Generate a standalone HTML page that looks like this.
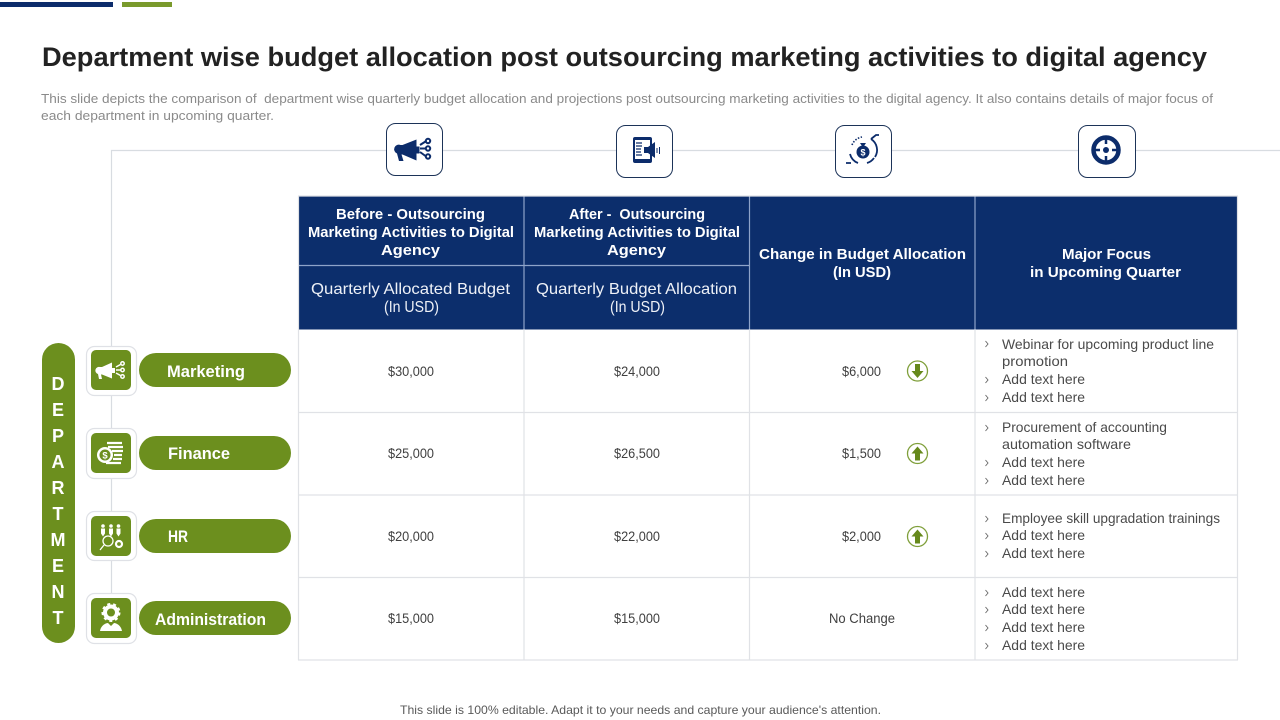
<!DOCTYPE html>
<html lang="en">
<head>
<meta charset="utf-8">
<title>Department wise budget allocation</title>
<style>
html,body{margin:0;padding:0;background:#fff;width:1280px;height:720px;overflow:hidden}
svg{display:block}
text{font-family:"Liberation Sans",sans-serif;white-space:pre}
.title{font-size:27px;font-weight:700;fill:#222}
.sub{font-size:13px;fill:#8a8a8a}
.hb{font-size:15px;font-weight:700;fill:#fff}
.hr{font-size:16px;fill:#eef1f7}
.val{font-size:13.500px;fill:#404040}
.bul{font-size:14px;fill:#4a4a4a}
.chev{fill:none;stroke:#666;stroke-width:0.900}
.dep{font-size:18px;font-weight:700;fill:#fff;text-anchor:middle}
.pl{font-size:17px;font-weight:700;fill:#fff}
.grid{stroke:#e0e2e6;stroke-width:1.200;fill:none}
.hgrid{stroke:#8ea3c9;stroke-width:1.200;fill:none}
.ibox{fill:#fff;stroke:#1c3358;stroke-width:1}
.tile{fill:#fff;stroke:#dfe1e6;stroke-width:1.200}
.tin{fill:#6c8f1e}
</style>
</head>
<body>
<svg width="1280" height="720" viewBox="0 0 1280 720" xmlns="http://www.w3.org/2000/svg">
  <rect width="1280" height="720" fill="#fff"/>
  <rect x="0" y="2" width="113" height="5" fill="#0c2c6b"/>
  <rect x="122" y="2" width="50" height="5" fill="#7a9a2c"/>

  <text class="title" x="42" y="66" textLength="1165" lengthAdjust="spacingAndGlyphs">Department wise budget allocation post outsourcing marketing activities to digital agency</text>
  <text class="sub" x="41" y="103" textLength="1172" lengthAdjust="spacingAndGlyphs">This slide depicts the comparison of  department wise quarterly budget allocation and projections post outsourcing marketing activities to the digital agency. It also contains details of major focus of</text>
  <text class="sub" x="41" y="120" textLength="233" lengthAdjust="spacingAndGlyphs">each department in upcoming quarter.</text>

  <path d="M1280 150.500H111.500V600" fill="none" stroke="#d8dce1" stroke-width="1.200"/>

  <!-- top icons -->
  <g>
    <rect class="ibox" x="386.500" y="123.500" width="56" height="52" rx="9"/>
    <path d="M400.500 145h2l14-5.500v21l-14-6h-1l2 6.500h-4.500l-2-7.500a4.500 4.500 0 0 1 3.500-8.500z" fill="#0c2c6b"/>
    <path d="M416 146.500h3.500v7h-3.500z" fill="#0c2c6b"/>
    <g fill="none" stroke="#0c2c6b" stroke-width="2">
      <circle cx="428" cy="141" r="2.200"/><circle cx="428" cy="148.500" r="2.200"/><circle cx="428" cy="156.500" r="2.200"/>
      <path d="M420 145l5.500-3.500M420 148.500h5.500M420 152l5.500 4"/>
    </g>
  </g>
  <g>
    <rect class="ibox" x="616.500" y="125.500" width="56" height="52" rx="9"/>
    <rect x="633" y="137" width="19" height="26" rx="2" fill="#0c2c6b"/>
    <rect x="635" y="140" width="15" height="19" fill="#fff"/>
    <path d="M636 143h6M636 146h6M636 149h5M636 152h5M636 155h6" stroke="#0c2c6b" stroke-width="1.200"/>
    <path d="M644 147h4l7-5v16l-7-5h-4z" fill="#0c2c6b"/>
    <path d="M657 148v5M659.500 147v7" stroke="#0c2c6b" stroke-width="1"/>
  </g>
  <g>
    <rect class="ibox" x="835.500" y="125.500" width="56" height="52" rx="9"/>
    <g fill="none" stroke="#0c2c6b" stroke-width="1.800">
      <path d="M871 139a13 13 0 0 1 4 18M858 163a13 13 0 0 1-8-9M867 163a13 13 0 0 0 7-5"/>
      <path d="M871 139l5-4 3 0M851 163h-5" />
    </g>
    <path d="M852 145a13 13 0 0 1 10-8" fill="none" stroke="#0c2c6b" stroke-width="1.600" stroke-dasharray="1.500 1.500"/>
    <circle cx="863" cy="152" r="6.500" fill="#0c2c6b"/>
    <path d="M860 143h6l-2 3h-2z" fill="#0c2c6b"/>
    <text x="863" y="155.500" font-size="9" font-weight="700" fill="#fff" text-anchor="middle">$</text>
  </g>
  <g>
    <rect class="ibox" x="1078.500" y="125.500" width="57" height="52" rx="9"/>
    <circle cx="1106" cy="150" r="12.500" fill="none" stroke="#0c2c6b" stroke-width="4.500"/>
    <circle cx="1106" cy="150" r="3" fill="#0c2c6b"/>
    <path d="M1106 138v6M1106 156v6M1094 150h6M1112 150h6" stroke="#0c2c6b" stroke-width="2.500"/>
  </g>

  <!-- table -->
  <g>
    <rect x="298.500" y="196.500" width="939" height="133" fill="#0c2e6c"/>
    <path class="hgrid" d="M524 196.500V329.500M749.500 196.500V329.500M975 196.500V329.500M298.500 265.500H749.500"/>
    <path class="grid" d="M298.500 196V660M524 330V660M749.500 330V660M975 330V660M1237.500 196V660M298 412.500H1238M298 495H1238M298 577.500H1238M298 660H1238M298 196H1238"/>

    <text class="hb" x="336" y="219" textLength="149" lengthAdjust="spacingAndGlyphs">Before - Outsourcing</text>
    <text class="hb" x="308" y="237" textLength="206" lengthAdjust="spacingAndGlyphs">Marketing Activities to Digital</text>
    <text class="hb" x="381" y="255" textLength="59" lengthAdjust="spacingAndGlyphs">Agency</text>
    <text class="hr" x="311" y="294" textLength="199" lengthAdjust="spacingAndGlyphs">Quarterly Allocated Budget</text>
    <text class="hr" x="384" y="312" textLength="55" lengthAdjust="spacingAndGlyphs">(In USD)</text>

    <text class="hb" x="569" y="219" textLength="136" lengthAdjust="spacingAndGlyphs">After -  Outsourcing</text>
    <text class="hb" x="534" y="237" textLength="206" lengthAdjust="spacingAndGlyphs">Marketing Activities to Digital</text>
    <text class="hb" x="607" y="255" textLength="59" lengthAdjust="spacingAndGlyphs">Agency</text>
    <text class="hr" x="536" y="294" textLength="201" lengthAdjust="spacingAndGlyphs">Quarterly Budget Allocation</text>
    <text class="hr" x="610" y="312" textLength="55" lengthAdjust="spacingAndGlyphs">(In USD)</text>

    <text class="hb" x="759" y="259" textLength="207" lengthAdjust="spacingAndGlyphs">Change in Budget Allocation</text>
    <text class="hb" x="833" y="277" textLength="58" lengthAdjust="spacingAndGlyphs">(In USD)</text>
    <text class="hb" x="1062" y="259" textLength="89" lengthAdjust="spacingAndGlyphs">Major Focus</text>
    <text class="hb" x="1030" y="277" textLength="151" lengthAdjust="spacingAndGlyphs">in Upcoming Quarter</text>

    <!-- values -->
    <text class="val" x="388" y="376" textLength="46" lengthAdjust="spacingAndGlyphs">$30,000</text>
    <text class="val" x="614" y="376" textLength="46" lengthAdjust="spacingAndGlyphs">$24,000</text>
    <text class="val" x="842" y="376" textLength="39" lengthAdjust="spacingAndGlyphs">$6,000</text>
    <text class="val" x="388" y="458" textLength="46" lengthAdjust="spacingAndGlyphs">$25,000</text>
    <text class="val" x="614" y="458" textLength="46" lengthAdjust="spacingAndGlyphs">$26,500</text>
    <text class="val" x="842" y="458" textLength="39" lengthAdjust="spacingAndGlyphs">$1,500</text>
    <text class="val" x="388" y="541" textLength="46" lengthAdjust="spacingAndGlyphs">$20,000</text>
    <text class="val" x="614" y="541" textLength="46" lengthAdjust="spacingAndGlyphs">$22,000</text>
    <text class="val" x="842" y="541" textLength="39" lengthAdjust="spacingAndGlyphs">$2,000</text>
    <text class="val" x="388" y="623" textLength="46" lengthAdjust="spacingAndGlyphs">$15,000</text>
    <text class="val" x="614" y="623" textLength="46" lengthAdjust="spacingAndGlyphs">$15,000</text>
    <text class="val" x="829" y="623" textLength="66" lengthAdjust="spacingAndGlyphs">No Change</text>

    <!-- arrows -->
    <g>
      <circle cx="917.500" cy="371" r="10" fill="#fff" stroke="#7f9f3a" stroke-width="1.300"/>
      <path d="M915 364h5v7h3.500l-6 7-6-7h3.500z" fill="#66891c"/>
    </g>
    <g>
      <circle cx="917.500" cy="453.500" r="10" fill="#fff" stroke="#7f9f3a" stroke-width="1.300"/>
      <path d="M915 460.500h5v-7h3.500l-6-7-6 7h3.500z" fill="#66891c"/>
    </g>
    <g>
      <circle cx="917.500" cy="536.500" r="10" fill="#fff" stroke="#7f9f3a" stroke-width="1.300"/>
      <path d="M915 543.500h5v-7h3.500l-6-7-6 7h3.500z" fill="#66891c"/>
    </g>

    <!-- bullets -->
    <path class="chev" d="M985.500 341l2.500 3-2.500 3M985.500 377l2.500 3-2.500 3M985.500 395l2.500 3-2.500 3M985.500 425l2.500 3-2.500 3M985.500 460l2.500 3-2.500 3M985.500 478l2.500 3-2.500 3M985.500 516l2.500 3-2.500 3M985.500 533l2.500 3-2.500 3M985.500 551l2.500 3-2.500 3M985.500 590l2.500 3-2.500 3M985.500 607l2.500 3-2.500 3M985.500 625l2.500 3-2.500 3M985.500 643l2.500 3-2.500 3"/>
    <text class="bul" x="1002" y="349" textLength="212" lengthAdjust="spacingAndGlyphs">Webinar for upcoming product line</text>
    <text class="bul" x="1002" y="366" textLength="66" lengthAdjust="spacingAndGlyphs">promotion</text>
    <text class="bul" x="1002" y="384" textLength="83" lengthAdjust="spacingAndGlyphs">Add text here</text>
    <text class="bul" x="1002" y="402" textLength="83" lengthAdjust="spacingAndGlyphs">Add text here</text>
    <text class="bul" x="1002" y="432" textLength="165" lengthAdjust="spacingAndGlyphs">Procurement of accounting</text>
    <text class="bul" x="1002" y="449" textLength="129" lengthAdjust="spacingAndGlyphs">automation software</text>
    <text class="bul" x="1002" y="467" textLength="83" lengthAdjust="spacingAndGlyphs">Add text here</text>
    <text class="bul" x="1002" y="485" textLength="83" lengthAdjust="spacingAndGlyphs">Add text here</text>
    <text class="bul" x="1002" y="523" textLength="218" lengthAdjust="spacingAndGlyphs">Employee skill upgradation trainings</text>
    <text class="bul" x="1002" y="540" textLength="83" lengthAdjust="spacingAndGlyphs">Add text here</text>
    <text class="bul" x="1002" y="558" textLength="83" lengthAdjust="spacingAndGlyphs">Add text here</text>
    <text class="bul" x="1002" y="597" textLength="83" lengthAdjust="spacingAndGlyphs">Add text here</text>
    <text class="bul" x="1002" y="614" textLength="83" lengthAdjust="spacingAndGlyphs">Add text here</text>
    <text class="bul" x="1002" y="632" textLength="83" lengthAdjust="spacingAndGlyphs">Add text here</text>
    <text class="bul" x="1002" y="650" textLength="83" lengthAdjust="spacingAndGlyphs">Add text here</text>
  </g>

  <!-- department pill -->
  <g>
    <rect x="42" y="343" width="33" height="300" rx="16.500" fill="#6c8f1e"/>
    <text class="dep" x="58" y="390">D</text>
    <text class="dep" x="58" y="416">E</text>
    <text class="dep" x="58" y="442">P</text>
    <text class="dep" x="58" y="468">A</text>
    <text class="dep" x="58" y="494">R</text>
    <text class="dep" x="58" y="520">T</text>
    <text class="dep" x="58" y="546">M</text>
    <text class="dep" x="58" y="572">E</text>
    <text class="dep" x="58" y="598">N</text>
    <text class="dep" x="58" y="624">T</text>
  </g>

  <!-- department tiles -->
  <g>
    <rect class="tile" x="86.500" y="346.500" width="50" height="49" rx="8"/>
    <rect class="tin" x="91" y="350" width="40" height="40" rx="5"/>
    <path d="M100 367h2l10-4.500v16l-10-4h-1l1 4.500h-3l-1-5a3.500 3.500 0 0 1 2-7z" fill="#fff"/>
    <path d="M112 368h3v5h-3z" fill="#fff"/>
    <g fill="none" stroke="#fff" stroke-width="1.500">
      <circle cx="122.500" cy="363.500" r="1.700"/><circle cx="122.500" cy="370" r="1.700"/><circle cx="122.500" cy="376.500" r="1.700"/>
      <path d="M116 367l4.500-2.500M116 370h4.500M116 373l4.500 2.500"/>
    </g>
  </g>
  <g>
    <rect class="tile" x="86.500" y="428.500" width="50" height="50" rx="8"/>
    <rect class="tin" x="91" y="433" width="40" height="40" rx="5"/>
    <path d="M107 443h15M108 447h15M112 451h11M114 455h8M113 459h9M106 463h15" stroke="#fff" stroke-width="2.200"/>
    <circle cx="105" cy="455" r="8" fill="#fff"/>
    <circle cx="105" cy="455" r="5.500" fill="#6c8f1e"/>
    <text x="105" y="458.500" font-size="9.500" font-weight="700" fill="#fff" text-anchor="middle">$</text>
  </g>
  <g>
    <rect class="tile" x="86.500" y="511.500" width="50" height="49" rx="8"/>
    <rect class="tin" x="91" y="516" width="40" height="40" rx="5"/>
    <g fill="#fff">
      <circle cx="103" cy="526" r="1.800"/><path d="M101 528.500h4v5l-2 3-2-3z"/>
      <circle cx="111" cy="526" r="1.800"/><path d="M109 528.500h4v5l-2 3-2-3z"/>
      <circle cx="118.500" cy="526" r="1.800"/><path d="M116.500 528.500h4v5l-2 3-2-3z"/>
    </g>
    <circle cx="108" cy="541" r="5" fill="none" stroke="#fff" stroke-width="1.300"/>
    <path d="M104 545l-4 5" stroke="#fff" stroke-width="1.300"/>
    <circle cx="119" cy="544" r="3" fill="none" stroke="#fff" stroke-width="2.200"/>
  </g>
  <g>
    <rect class="tile" x="86.500" y="593.500" width="50" height="50" rx="8"/>
    <rect class="tin" x="91" y="598" width="40" height="40" rx="5"/>
    <circle cx="111" cy="612.500" r="6" fill="none" stroke="#fff" stroke-width="4"/>
    <circle cx="111" cy="612.500" r="8.500" fill="none" stroke="#fff" stroke-width="2" stroke-dasharray="3 3"/>
    <path d="M100 631c1-6 6-8 8-8l3 3 3-3c2 0 7 2 8 8z" fill="#fff"/>
  </g>

  <!-- department pills -->
  <g>
    <rect x="139" y="353" width="152" height="34" rx="17" fill="#6c8f1e"/>
    <text class="pl" x="167" y="377" textLength="78" lengthAdjust="spacingAndGlyphs">Marketing</text>
  </g>
  <g>
    <rect x="139" y="436" width="152" height="34" rx="17" fill="#6c8f1e"/>
    <text class="pl" x="168" y="459" textLength="62" lengthAdjust="spacingAndGlyphs">Finance</text>
  </g>
  <g>
    <rect x="139" y="519" width="152" height="34" rx="17" fill="#6c8f1e"/>
    <text class="pl" x="168" y="542" textLength="20" lengthAdjust="spacingAndGlyphs">HR</text>
  </g>
  <g>
    <rect x="139" y="601" width="152" height="34" rx="17" fill="#6c8f1e"/>
    <text class="pl" x="155" y="625" textLength="111" lengthAdjust="spacingAndGlyphs">Administration</text>
  </g>

  <text x="400" y="714" font-size="12" fill="#595959" textLength="481" lengthAdjust="spacingAndGlyphs">This slide is 100% editable. Adapt it to your needs and capture your audience's attention.</text>
</svg>
</body>
</html>
